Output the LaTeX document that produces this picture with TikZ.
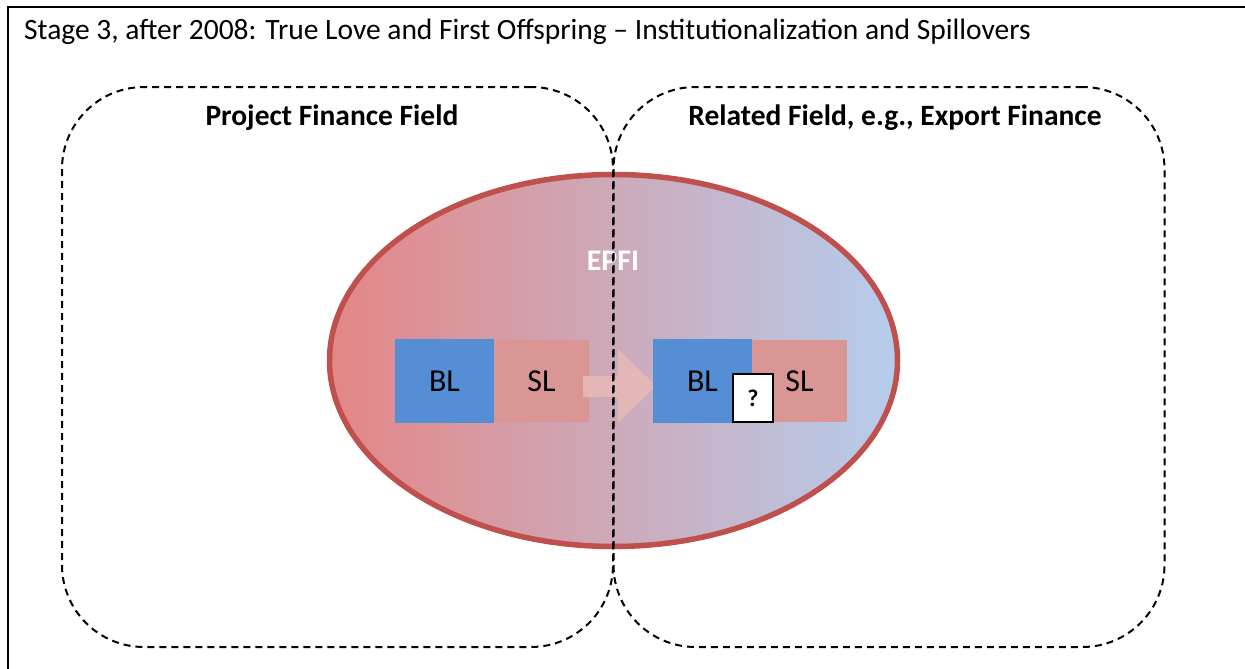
\documentclass[tikz,border=0pt]{standalone}
\usepackage{fontspec}
\setmainfont{Carlito}
\usetikzlibrary{shapes.geometric}
\definecolor{ringred}{HTML}{C0504D}
\definecolor{redside}{RGB}{228,134,134}
\definecolor{blueside}{RGB}{181,205,236}
\definecolor{blbox}{HTML}{558ED5}
\definecolor{slbox}{HTML}{D99694}
\definecolor{arrowpink}{HTML}{E6B9B8}
\tikzset{
  fieldbox/.style={draw=black, line width=2pt, dash pattern=on 7pt off 5pt,
    rounded corners=82pt, minimum width=551pt, minimum height=560pt},
  fieldlabel/.style={font=\bfseries\fontsize{29.5}{34}\selectfont},
  rolebox/.style={inner sep=0pt, font=\fontsize{32}{36}\selectfont},
  blstyle/.style={rolebox, fill=blbox, minimum width=99pt, minimum height=84pt},
  slstyle/.style={rolebox, fill=slbox, minimum width=95pt, minimum height=82pt},
}
\begin{document}
\begin{tikzpicture}[x=1pt,y=-1pt]
\useasboundingbox (0,0) rectangle (1245,669);
\fill[white] (0,0) rectangle (1245,669);
\begin{scope}
  \clip (0,0) rectangle (1245,669);
  % outer frame, running past the lower and right edges
  \draw[line width=2.5pt] (8,7) rectangle (1260,690);
\end{scope}

% title
\node (title) [anchor=base west, inner sep=0pt, font=\fontsize{29.5}{34}\selectfont]
  at (24,40) {Stage 3, after 2008: True Love and First Offspring -- Institutionalization and Spillovers};

% the EPFI ellipse with its red-to-blue fill
\node (epfi) [ellipse, draw=ringred, line width=5.5pt, minimum width=568pt, minimum height=372pt,
  left color=redside, right color=blueside] at (613.5,360.5) {};
\node (epfilabel) [text=white, font=\bfseries\fontsize{30}{34}\selectfont] at (613,261) {EPFI};

% buyer / seller boxes in the project finance field
\node (bl1) [blstyle] at (444.5,381) {BL};
\node (sl1) [slstyle] at (541.5,381) {SL};

% block arrow carrying the practice over
\fill[arrowpink, opacity=0.9] (583,376) -- (618,376) -- (618,349) -- (656,386)
  -- (618,423) -- (618,397) -- (583,397) -- cycle;

% boxes in the related field
\node (bl2) [blstyle] at (702.5,381) {BL};
\node (sl2) [slstyle] at (799.5,381) {SL};
\node (q) [draw=black, fill=white, line width=1.5pt, inner sep=0pt, minimum width=40pt,
  minimum height=48pt, font=\bfseries\fontsize{24}{28}\selectfont] at (753,398) {?};

% the two fields
\node (pff) [fieldbox] at (337.5,367) {};
\node (rf) [fieldbox] at (889,367) {};
\node (pfflabel) [fieldlabel] at (332,118) {Project Finance Field};
\node (rflabel) [fieldlabel] at (895,118) {Related Field, e.g., Export Finance};
\end{tikzpicture}
\end{document}
